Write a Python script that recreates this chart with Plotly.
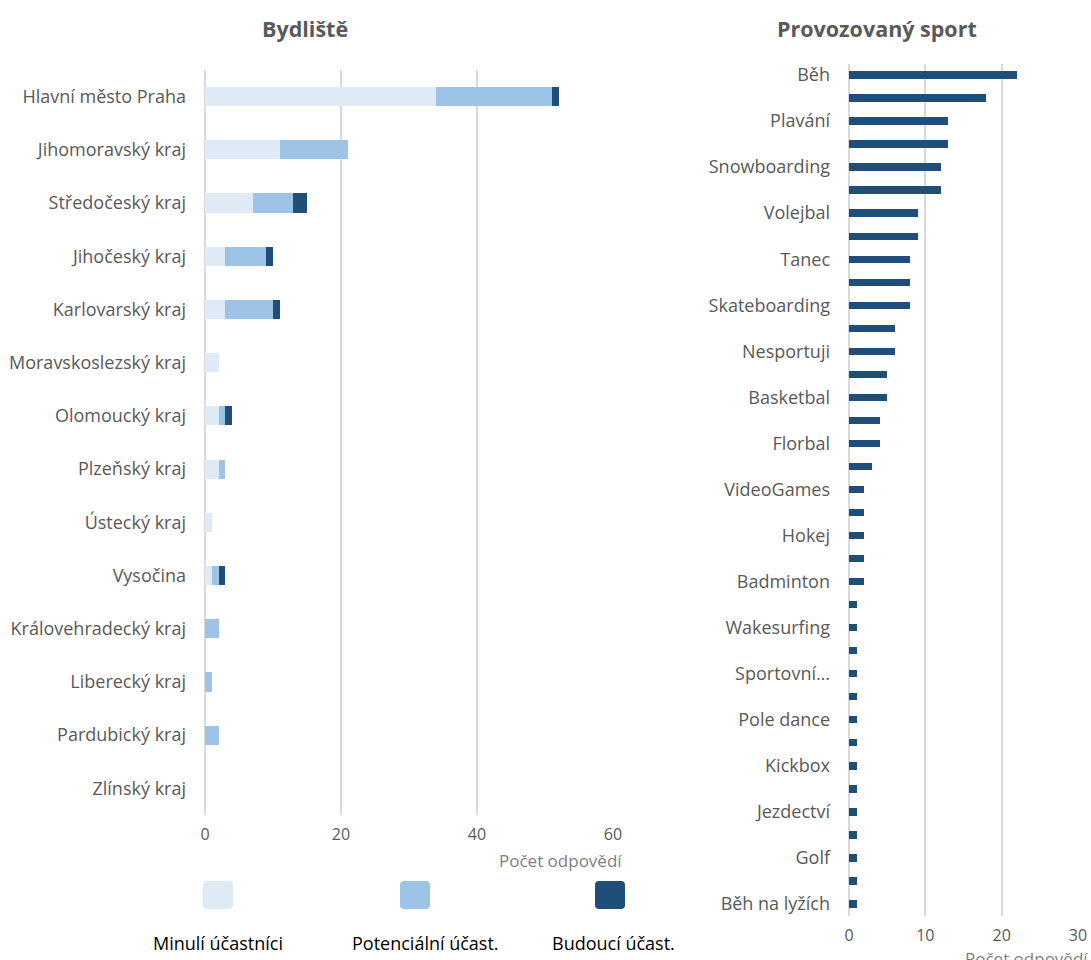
import plotly.graph_objects as go

# --- Bydliště (stacked by participant type) ---
regions = [
    "Hlavní město Praha", "Jihomoravský kraj", "Středočeský kraj", "Jihočeský kraj",
    "Karlovarský kraj", "Moravskoslezský kraj", "Olomoucký kraj", "Plzeňský kraj",
    "Ústecký kraj", "Vysočina", "Královehradecký kraj", "Liberecký kraj",
    "Pardubický kraj", "Zlínský kraj",
]
past = [34, 11, 7, 3, 3, 2, 2, 2, 1, 1, 0, 0, 0, 0]
potential = [17, 10, 6, 6, 7, 0, 1, 1, 0, 1, 2, 1, 2, 0]
future = [1, 0, 2, 1, 1, 0, 1, 0, 0, 1, 0, 0, 0, 0]
series_names = ["Minulí účastníci", "Potenciální účast.", "Budoucí účast."]
series_colors = ["#DEEBF7", "#9DC3E6", "#1F4E79"]

# --- Provozovaný sport (only every other label fits on the axis) ---
sport_labels = [
    "Běh", "", "Plavání", "", "Snowboarding", "", "Volejbal", "", "Tanec", "",
    "Skateboarding", "", "Nesportuji", "", "Basketbal", "", "Florbal", "",
    "VideoGames", "", "Hokej", "", "Badminton", "", "Wakesurfing", "",
    "Sportovní…", "", "Pole dance", "", "Kickbox", "", "Jezdectví", "",
    "Golf", "", "Běh na lyžích",
]
sport_counts = [
    22, 18, 13, 13, 12, 12, 9, 9, 8, 8,
    8, 6, 6, 5, 5, 4, 4, 3,
    2, 2, 2, 2, 2, 1, 1, 1,
    1, 1, 1, 1, 1, 1, 1, 1,
    1, 1, 1,
]

left_ticks = [0, 20, 40, 60]
right_ticks = [0, 10, 20, 30]

W, H = 1091, 960
FONT = "Open Sans"
GRAY = "#595959"
GRID = "#D9D9D9"


def px_x(p):
    return p / W


def px_y(p):
    return 1 - p / H


fig = go.Figure()

for name, vals, col in zip(series_names, [past, potential, future], series_colors):
    fig.add_trace(go.Bar(
        x=vals, y=regions, orientation="h", name=name,
        marker=dict(color=col, line=dict(width=0)),
        width=0.36, xaxis="x", yaxis="y", showlegend=False,
    ))

sport_pos = list(range(len(sport_counts)))
fig.add_trace(go.Bar(
    x=sport_counts, y=sport_pos, orientation="h",
    marker=dict(color="#1F4E79", line=dict(width=0)),
    width=0.32, xaxis="x2", yaxis="y2", showlegend=False,
))

cat_font = dict(family=FONT, size=18, color=GRAY)
num_font = dict(family=FONT, size=16, color=GRAY)

fig.update_layout(
    template=go.layout.Template(),
    width=W, height=H,
    margin=dict(l=0, r=0, t=0, b=0, pad=0),
    paper_bgcolor="white", plot_bgcolor="white",
    barmode="stack",
    showlegend=False,
    font=dict(family=FONT, color=GRAY),
    xaxis=dict(
        domain=[px_x(205), px_x(613)], range=[0, 60],
        tickvals=left_ticks, tickfont=num_font,
        showgrid=True, gridcolor=GRID, gridwidth=1.5,
        zeroline=True, zerolinecolor=GRID, zerolinewidth=2,
        showline=False, ticks="", ticklabelstandoff=8, anchor="y",
        automargin=False,
    ),
    yaxis=dict(
        domain=[px_y(815), px_y(70)],
        categoryorder="array", categoryarray=regions, autorange="reversed",
        tickfont=cat_font, ticks="", showgrid=False, zeroline=False,
        showline=False, ticklabelstandoff=18, anchor="x", automargin=False,
    ),
    xaxis2=dict(
        domain=[px_x(849), px_x(1078)], range=[0, 30],
        tickvals=right_ticks, tickfont=num_font,
        showgrid=True, gridcolor=GRID, gridwidth=1.5,
        zeroline=True, zerolinecolor=GRID, zerolinewidth=2,
        showline=False, ticks="", ticklabelstandoff=8, anchor="y2",
        automargin=False,
    ),
    yaxis2=dict(
        domain=[px_y(915.5), px_y(63.5)],
        range=[len(sport_counts) - 0.5, -0.5],
        tickmode="array", tickvals=sport_pos, ticktext=sport_labels,
        tickfont=cat_font, ticks="", showgrid=False, zeroline=False,
        showline=False, ticklabelstandoff=18, anchor="x2", automargin=False,
    ),
)

annotations = [
    dict(text="<b>Bydliště</b>", x=px_x(305), y=px_y(28), xref="paper", yref="paper",
         xanchor="center", yanchor="middle",
         showarrow=False, font=dict(family=FONT, size=21.5, color=GRAY)),
    dict(text="<b>Provozovaný sport</b>", x=px_x(877), y=px_y(28), xref="paper", yref="paper",
         xanchor="center", yanchor="middle",
         showarrow=False, font=dict(family=FONT, size=21.5, color=GRAY)),
    dict(text="Počet odpovědí", x=px_x(624), y=px_y(860), xref="paper", yref="paper",
         xanchor="right", yanchor="middle", showarrow=False,
         font=dict(family=FONT, size=17, color="#7F7F7F")),
    dict(text="Počet odpovědí", x=px_x(1090), y=px_y(958), xref="paper", yref="paper",
         xanchor="right", yanchor="middle", showarrow=False,
         font=dict(family=FONT, size=17, color="#7F7F7F")),
]

# Custom legend: rounded swatches with labels underneath
shapes = []
legend_centers = [218, 415, 610]
label_centers = [218, 425, 613]
for cx, lx, name, col in zip(legend_centers, label_centers, series_names, series_colors):
    x0, x1 = cx - 15, cx + 15
    y0, y1 = 881, 909
    r = 4
    pix_path = [
        ("M", x0 + r, y0), ("L", x1 - r, y0), ("Q", x1, y0, x1, y0 + r),
        ("L", x1, y1 - r), ("Q", x1, y1, x1 - r, y1), ("L", x0 + r, y1),
        ("Q", x0, y1, x0, y1 - r), ("L", x0, y0 + r), ("Q", x0, y0, x0 + r, y0),
    ]
    parts = []
    for seg in pix_path:
        cmd, coords = seg[0], seg[1:]
        pts = [
            f"{px_x(coords[i]):.5f},{px_y(coords[i + 1]):.5f}"
            for i in range(0, len(coords), 2)
        ]
        parts.append(cmd + " " + " ".join(pts))
    shapes.append(dict(
        type="path", xref="paper", yref="paper", line=dict(width=0),
        fillcolor=col, path=" ".join(parts) + " Z",
    ))
    annotations.append(dict(
        text=name, x=px_x(lx), y=px_y(943), xref="paper", yref="paper",
        showarrow=False, xanchor="center", yanchor="middle",
        font=dict(family=FONT, size=18, color="#000000"),
    ))

fig.update_layout(annotations=annotations, shapes=shapes)

fig.write_html("out.html")
